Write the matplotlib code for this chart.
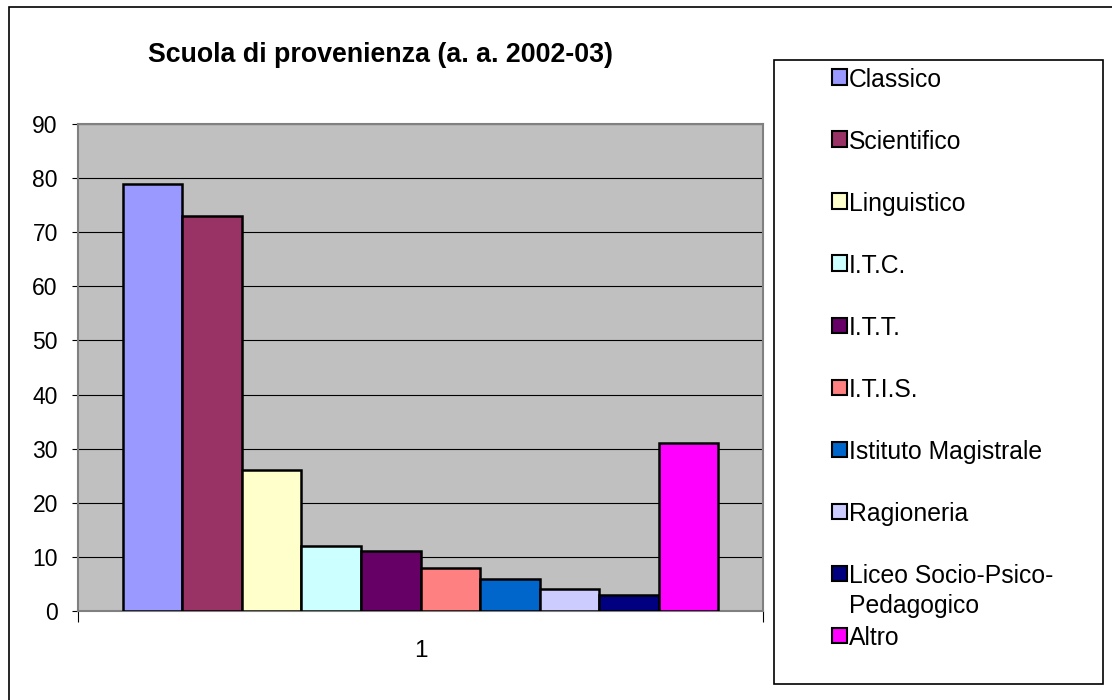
import matplotlib
matplotlib.use("Agg")
import matplotlib.pyplot as plt
from matplotlib.patches import Rectangle

categories = ["Classico", "Scientifico", "Linguistico", "I.T.C.", "I.T.T.", "I.T.I.S.",
              "Istituto Magistrale", "Ragioneria", "Liceo Socio-Psico-\nPedagogico", "Altro"]
values = [79, 73, 26, 12, 11, 8, 6, 4, 3, 31]
colors = ["#9999FF", "#993366", "#FFFFCC", "#CCFFFF", "#660066", "#FF8080",
          "#0066CC", "#CCCCFF", "#000080", "#FF00FF"]
yticks = [0, 10, 20, 30, 40, 50, 60, 70, 80, 90]
title = "Scuola di provenienza (a. a. 2002-03)"
xlabel_tick = "1"

plt.rcParams['font.family'] = ['Liberation Sans', 'DejaVu Sans']

W, H = 1112, 700
fig = plt.figure(figsize=(W / 100, H / 100), dpi=100)
fig.patch.set_facecolor("white")

def fx(px):
    return px / W

def fy(py):
    return 1 - py / H

# outer chart border (extends past right/bottom edges)
fig.add_artist(Rectangle((fx(9), fy(720)), fx(1130 - 9), (720 - 7) / H,
                         transform=fig.transFigure, fill=False, edgecolor="black",
                         linewidth=1.2))

# plot area
L, R, T, B = 78, 763, 124, 611
ax = fig.add_axes([fx(L), fy(B), (R - L) / W, (B - T) / H])
ax.set_facecolor("#C0C0C0")
n = len(values)
ax.set_xlim(-1.25, n - 1 + 1.25)
ax.set_ylim(0, 90)
ax.set_axisbelow(True)
ax.yaxis.grid(True, color="black", linewidth=0.8)
for s in ax.spines.values():
    s.set_color("#808080")
    s.set_linewidth(1.5)

xs = list(range(n))
ax.bar(xs, values, width=1.0, color=colors, edgecolor="black", linewidth=1.8, zorder=3)

ax.set_yticks(yticks)
ax.tick_params(axis="y", direction="out", length=4.5, width=0.8, color="black",
               labelsize=16.5, pad=10)
ax.set_xticks([(n - 1) / 2])
ax.set_xticklabels([xlabel_tick])
ax.tick_params(axis="x", which="major", length=0, labelsize=17.5, pad=21)
ax.set_xticks([-1.25, n - 1 + 1.25], minor=True)
ax.tick_params(axis="x", which="minor", direction="out", length=8, width=0.8, color="black")

# title
fig.text(fx(381), fy(55), title, ha="center", va="center", fontsize=19.3, fontweight="bold")

# legend box
LL, LT, LR, LB = 774, 60, 1103, 684
fig.add_artist(Rectangle((fx(LL), fy(LB)), (LR - LL) / W, (LB - LT) / H,
                         transform=fig.transFigure, fill=False, edgecolor="black",
                         linewidth=1.2))
for i, (lab, c) in enumerate(zip(categories, colors)):
    yc = 77 + 62 * i
    fig.add_artist(Rectangle((fx(832), fy(yc + 7.5)), 15 / W, 15 / H,
                             transform=fig.transFigure, facecolor=c,
                             edgecolor="black", linewidth=1.5))
    fig.text(fx(849), fy(yc - 9), lab, ha="left", va="top", fontsize=17.8,
             linespacing=1.3)

fig.savefig("out.png", dpi=100)
